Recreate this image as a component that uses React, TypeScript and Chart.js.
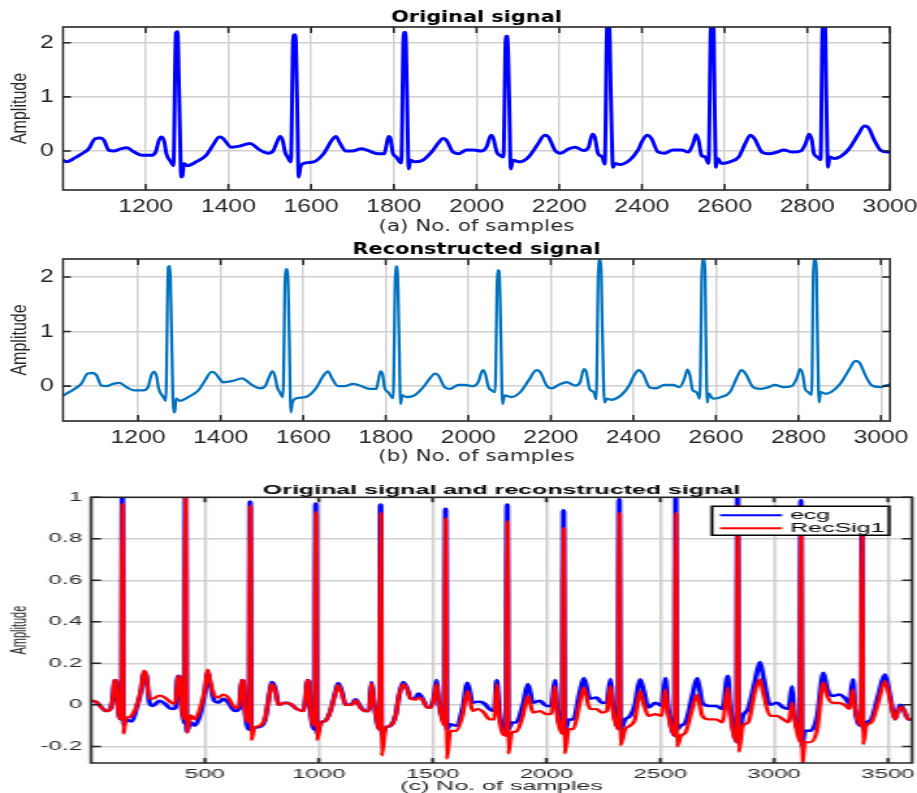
import React, { useEffect, useRef } from "react";
import { Chart, registerables } from "chart.js";

Chart.register(...registerables);

const PAGE_W = 917;

// ---------------- DATA ----------------
// (a) Original signal, samples 1000..3000
const origX = [
  1000, 1009, 1026, 1046, 1062, 1078, 1090, 1099, 1111, 1123,
  1139, 1155, 1172, 1192, 1212, 1224, 1232, 1239, 1245, 1250,
  1261, 1267, 1273, 1277, 1281, 1286, 1289, 1292, 1301, 1322,
  1346, 1362, 1378, 1386, 1407, 1427, 1452, 1464, 1476, 1496,
  1508, 1516, 1525, 1531, 1537, 1543, 1551, 1557, 1562, 1566,
  1570, 1574, 1581, 1606, 1630, 1650, 1660, 1670, 1684, 1700,
  1721, 1737, 1761, 1777, 1782, 1787, 1792, 1798, 1806, 1814,
  1818, 1824, 1828, 1832, 1836, 1840, 1850, 1870, 1891, 1907,
  1919, 1927, 1943, 1956, 1976, 1992, 2012, 2024, 2035, 2041,
  2049, 2057, 2065, 2071, 2075, 2079, 2083, 2088, 2105, 2126,
  2146, 2165, 2174, 2190, 2203, 2223, 2239, 2259, 2271, 2280,
  2286, 2294, 2304, 2310, 2316, 2321, 2325, 2330, 2336, 2346,
  2370, 2390, 2402, 2413, 2423, 2439, 2455, 2475, 2496, 2512,
  2524, 2531, 2537, 2544, 2553, 2561, 2567, 2573, 2576, 2579,
  2583, 2593, 2613, 2634, 2650, 2662, 2672, 2690, 2707, 2727,
  2743, 2764, 2784, 2796, 2804, 2811, 2816, 2824, 2832, 2837,
  2843, 2846, 2850, 2854, 2865, 2881, 2901, 2922, 2938, 2948,
  2962, 2978, 3000,
];
const origY = [
  -0.17, -0.2, -0.14, -0.05, 0.04, 0.23, 0.24, 0.2, 0.01, 0,
  0.04, 0.06, -0.02, -0.08, -0.08, -0.02, 0.2, 0.26, 0.17, -0.05,
  -0.2, -0.27, 2.18, 2.2, 1.0, -0.48, -0.46, -0.23, -0.27, -0.2,
  -0.08, 0.1, 0.26, 0.24, 0.07, 0.09, 0.14, 0.09, 0.02, -0.04,
  0, 0.14, 0.27, 0.2, -0.02, -0.11, -0.2, 2.14, 2.14, 1.0,
  -0.48, -0.3, -0.23, -0.2, -0.05, 0.2, 0.27, 0.14, 0, 0,
  0.04, 0.01, -0.05, -0.05, 0.1, 0.27, 0.23, -0.05, -0.11, -0.2,
  -0.22, 2.19, 2.19, 1.0, -0.33, -0.17, -0.2, -0.17, -0.02, 0.14,
  0.23, 0.2, -0.02, -0.05, 0.02, 0.02, 0, 0.07, 0.29, 0.23,
  -0.02, -0.08, -0.11, 2.12, 2.11, 0.94, -0.33, -0.17, -0.2, -0.11,
  0.1, 0.29, 0.26, 0.01, -0.04, 0.04, 0.07, 0.01, 0.07, 0.31,
  0.26, -0.05, -0.11, -0.24, 2.31, 2.31, 1.0, -0.3, -0.23, -0.25,
  -0.17, 0.01, 0.2, 0.29, 0.23, -0.02, -0.04, 0.02, 0.02, -0.02,
  0.14, 0.3, 0.2, -0.08, -0.11, -0.23, 2.31, 2.31, 0.8, -0.3,
  -0.14, -0.23, -0.2, -0.11, 0.14, 0.29, 0.23, -0.02, -0.05, -0.02,
  0.02, -0.02, 0, 0.14, 0.31, 0.2, -0.05, -0.11, -0.16, 2.31,
  2.31, 1.0, -0.3, -0.11, -0.14, -0.1, 0.04, 0.29, 0.46, 0.43,
  0.2, 0.01, -0.02,
];

// (b) Reconstructed signal: same samples plus a short tail past 3000
const recTailX = [3010, 3022];
const recTailY = [0.01, 0.03];

// (c) ecg and RecSig1, samples 0..3606
const ecgX = [
  0, 22, 44, 66, 85, 96, 103, 110, 118, 125,
  134, 137, 139, 141, 143, 152, 165, 180, 199, 221,
  232, 243, 257, 272, 301, 325, 353, 370, 382, 390,
  397, 411, 414, 416, 418, 420, 438, 456, 478, 500,
  512, 522, 541, 559, 581, 603, 632, 650, 662, 669,
  676, 695, 698, 700, 702, 704, 718, 743, 765, 787,
  794, 809, 824, 853, 875, 904, 934, 943, 949, 956,
  963, 983, 986, 988, 990, 992, 1010, 1029, 1051, 1073,
  1085, 1103, 1118, 1147, 1162, 1184, 1206, 1221, 1232, 1243,
  1268, 1271, 1273, 1275, 1277, 1294, 1316, 1338, 1353, 1371,
  1390, 1404, 1424, 1438, 1456, 1478, 1493, 1508, 1518, 1528,
  1553, 1556, 1558, 1560, 1562, 1578, 1603, 1632, 1654, 1676,
  1699, 1724, 1750, 1772, 1782, 1794, 1824, 1827, 1829, 1831,
  1833, 1848, 1868, 1897, 1919, 1941, 1971, 2000, 2022, 2037,
  2047, 2071, 2074, 2076, 2078, 2080, 2098, 2118, 2147, 2165,
  2191, 2221, 2243, 2265, 2282, 2291, 2316, 2319, 2321, 2323,
  2325, 2346, 2368, 2389, 2411, 2426, 2448, 2478, 2507, 2522,
  2534, 2564, 2567, 2569, 2571, 2573, 2590, 2611, 2641, 2663,
  2685, 2715, 2745, 2774, 2797, 2807, 2836, 2839, 2841, 2843,
  2845, 2863, 2886, 2915, 2938, 2952, 2982, 3012, 3041, 3064,
  3079, 3088, 3114, 3117, 3119, 3121, 3123, 3136, 3160, 3190,
  3217, 3234, 3257, 3286, 3316, 3331, 3346, 3356, 3382, 3385,
  3387, 3389, 3391, 3405, 3427, 3457, 3487, 3509, 3531, 3553,
  3568, 3590, 3606,
];
const ecgY = [
  0.02, 0.015, -0.01, -0.03, -0.02, 0.04, 0.12, 0.115, 0, -0.06,
  -0.07, 1.02, 1.0, 0.3, -0.1, -0.07, -0.075, -0.08, -0.02, 0.075,
  0.16, 0.14, 0.01, -0.005, 0.02, 0.005, -0.02, -0.015, 0.14, 0.13,
  0, -0.09, 1.02, 1.02, 0.3, -0.13, -0.085, -0.1, -0.05, 0.06,
  0.16, 0.11, 0.02, 0.01, 0.03, 0.01, -0.03, -0.02, 0.12, 0.115,
  -0.02, -0.12, 0.98, 0.97, 0.3, -0.12, -0.11, -0.105, -0.07, 0.075,
  0.11, 0.08, 0, 0.01, 0.005, -0.02, -0.03, 0.04, 0.12, 0.115,
  -0.02, -0.12, 0.97, 0.96, 0.3, -0.14, -0.085, -0.077, -0.03, 0.06,
  0.105, 0.06, 0, 0.005, 0.027, -0.01, -0.03, -0.03, 0.11, 0.01,
  -0.12, 0.965, 0.96, 0.3, -0.15, -0.11, -0.1, -0.05, 0.045, 0.11,
  0.075, 0.03, 0.03, 0.055, 0.03, -0.013, -0.013, 0.05, 0.12, 0.01,
  -0.085, 0.945, 0.94, 0.3, -0.12, -0.093, -0.1, -0.02, 0.107, 0.01,
  0.015, 0.01, -0.02, -0.03, 0.12, -0.035, -0.13, 0.965, 0.96, 0.3,
  -0.12, -0.085, -0.085, 0, 0.1, 0.01, 0.02, -0.005, -0.005, 0.12,
  -0.02, -0.125, 0.937, 0.93, 0.3, -0.13, -0.07, -0.07, 0.06, 0.13,
  0.03, 0.035, 0.01, 0.01, 0.124, 0.01, -0.117, 0.99, 0.985, 0.3,
  -0.12, -0.07, -0.053, 0, 0.123, 0.075, -0.013, 0.01, -0.005, 0.13,
  -0.005, -0.15, 1.02, 1.02, 0.3, -0.12, -0.1, -0.085, 0.043, 0.13,
  0.01, -0.005, -0.005, -0.02, 0.14, 0, -0.18, 1.02, 1.02, 0.3,
  -0.15, -0.053, -0.02, 0.107, 0.206, 0.14, 0, 0.01, -0.013, -0.02,
  0.09, -0.05, -0.117, 0.985, 0.98, 0.3, -0.2, -0.125, -0.125, -0.053,
  0.155, 0.075, 0.043, 0.05, 0.027, 0.003, 0.123, -0.02, -0.1, 0.9,
  0.9, 0.3, -0.12, -0.085, -0.07, 0.043, 0.147, 0.043, -0.07, 0,
  -0.02, -0.07, -0.07,
];
const recSig1Y = [
  0.02, 0.015, -0.01, -0.03, -0.02, 0.04, 0.12, 0.115, 0, -0.06,
  -0.07, 0.97, 0.96, 0.3, -0.14, -0.06, -0.06, -0.05, -0.01, 0.08,
  0.165, 0.14, 0.03, 0.03, 0.045, 0.035, 0.01, 0.005, 0.14, 0.13,
  0, -0.07, 1.02, 1.02, 0.3, -0.135, -0.05, -0.07, -0.02, 0.075,
  0.17, 0.12, 0.045, 0.035, 0.05, 0.035, -0.013, -0.013, 0.12, 0.115,
  -0.02, -0.085, 0.96, 0.95, 0.3, -0.17, -0.11, -0.1, -0.06, 0.07,
  0.1, 0.07, 0, 0.01, 0.005, -0.02, -0.03, 0.04, 0.12, 0.11,
  -0.02, -0.1, 0.93, 0.92, 0.3, -0.17, -0.085, -0.077, -0.03, 0.055,
  0.095, 0.05, 0, 0, 0.022, -0.015, -0.03, -0.03, 0.105, 0.01,
  -0.12, 0.925, 0.92, 0.3, -0.245, -0.11, -0.1, -0.05, 0.045, 0.1,
  0.07, 0.03, 0.025, 0.035, 0.025, -0.013, -0.013, 0.04, 0.1, 0.01,
  -0.1, 0.9, 0.89, 0.3, -0.26, -0.125, -0.125, -0.05, 0.067, -0.03,
  -0.02, -0.035, -0.07, -0.07, 0.1, -0.07, -0.15, 0.885, 0.88, 0.3,
  -0.235, -0.13, -0.13, -0.05, 0.043, -0.037, -0.03, -0.045, -0.045, 0.09,
  -0.05, -0.14, 0.853, 0.85, 0.3, -0.235, -0.117, -0.117, 0.01, 0.083,
  -0.02, -0.02, -0.037, -0.03, 0.09, -0.02, -0.117, 0.925, 0.92, 0.3,
  -0.195, -0.117, -0.1, -0.07, 0.067, 0.01, -0.053, -0.045, -0.053, 0.075,
  -0.04, -0.15, 0.925, 0.92, 0.3, -0.2, -0.15, -0.133, -0.02, 0.05,
  -0.053, -0.07, -0.07, -0.085, 0.083, -0.04, -0.18, 0.96, 0.96, 0.3,
  -0.227, -0.1, -0.085, 0.06, 0.123, 0.06, -0.053, -0.053, -0.07, -0.085,
  0.01, -0.053, -0.18, 0.95, 0.94, 0.3, -0.3, -0.18, -0.18, -0.117,
  0.107, 0.043, 0.01, 0.01, -0.005, -0.02, 0.075, -0.02, -0.1, 0.86,
  0.86, 0.3, -0.19, -0.1, -0.085, 0.01, 0.115, 0.027, -0.07, -0.01,
  -0.02, -0.07, -0.07,
];

// Tick values
const xTicksAB = [1200, 1400, 1600, 1800, 2000, 2200, 2400, 2600, 2800, 3000];
const yTicksAB = [0, 1, 2];
const xTicksC = [500, 1000, 1500, 2000, 2500, 3000, 3500];
const yTicksC = [-0.2, 0, 0.2, 0.4, 0.6, 0.8, 1];

// ---------------- STYLE ----------------
const SANS = "'Liberation Sans', Arial, Helvetica, sans-serif";
const WIDE = "'DejaVu Sans', Verdana, sans-serif";
const AXIS_COLOR = "#262626";
const GRID_COLOR = "#d0d0d0";

const matlabAxes = {
  id: "matlabAxes",
  afterDatasetsDraw(chart: any, _args: any, opts: any) {
    const { ctx, chartArea: a, scales } = chart;
    const xs = scales.x;
    const ys = scales.y;
    ctx.save();
    if (opts.legend) {
      const lg = opts.legend;
      const x0 = a.right - lg.insetRight - lg.width;
      const y0 = a.top + lg.insetTop;
      ctx.fillStyle = "#ffffff";
      ctx.fillRect(x0, y0, lg.width, lg.height);
      ctx.font = `${lg.fontSize}px ${SANS}`;
      ctx.textBaseline = "middle";
      ctx.textAlign = "left";
      chart.data.datasets.forEach((ds: any, i: number) => {
        const yy = y0 + lg.firstRow + i * lg.rowGap;
        ctx.strokeStyle = ds.borderColor;
        ctx.lineWidth = lg.lineWidth;
        ctx.beginPath();
        ctx.moveTo(x0 + lg.lineStart, yy);
        ctx.lineTo(x0 + lg.lineEnd, yy);
        ctx.stroke();
        ctx.fillStyle = "#000000";
        ctx.fillText(ds.label, x0 + lg.textStart, yy + 0.5);
      });
      ctx.strokeStyle = "#000000";
      ctx.lineWidth = lg.borderWidth;
      ctx.strokeRect(x0, y0, lg.width, lg.height);
    }
    ctx.strokeStyle = AXIS_COLOR;
    ctx.lineWidth = opts.lineWidth;
    ctx.beginPath();
    const L = opts.tickLen;
    xs.ticks.forEach((t: any) => {
      const p = xs.getPixelForValue(t.value);
      ctx.moveTo(p, a.bottom);
      ctx.lineTo(p, a.bottom - L);
      ctx.moveTo(p, a.top);
      ctx.lineTo(p, a.top + L);
    });
    ys.ticks.forEach((t: any) => {
      const p = ys.getPixelForValue(t.value);
      ctx.moveTo(a.left, p);
      ctx.lineTo(a.left + L, p);
      ctx.moveTo(a.right, p);
      ctx.lineTo(a.right - L, p);
    });
    ctx.stroke();
    ctx.strokeRect(a.left, a.top, a.right - a.left, a.bottom - a.top);
    ctx.restore();
  },
};

type Series = { label: string; x: number[]; y: number[]; color: string; width: number; order: number };

type PanelCfg = {
  series: Series[];
  padRight: number;
  yAxisW: number;
  xAxisH: number;
  xMin: number;
  xMax: number;
  yMin: number;
  yMax: number;
  xTicks: number[];
  yTicks: number[];
  tickFont: any;
  xTickPad: number;
  yTickPad: number;
  title: string;
  titleFont: any;
  titlePad: any;
  xLabel: string;
  xLabelFont: any;
  yLabelFont: any;
  yLabelPad: number;
  tickLen: number;
  boxWidth: number;
  legend?: any;
};

const fmt = (v: any) => String(+Number(v).toFixed(2));

function buildConfig(p: PanelCfg): any {
  return {
    type: "line",
    data: {
      datasets: p.series.map((s) => ({
        label: s.label,
        data: s.x.map((x, i) => ({ x, y: s.y[i] })),
        borderColor: s.color,
        backgroundColor: s.color,
        borderWidth: s.width,
        pointRadius: 0,
        pointHoverRadius: 0,
        fill: false,
        cubicInterpolationMode: "monotone",
        borderJoinStyle: "round",
        borderCapStyle: "round",
        clip: 0,
        order: s.order,
      })),
    },
    options: {
      responsive: false,
      animation: false,
      events: [],
      layout: { padding: { left: 0, right: p.padRight, top: 0, bottom: 0 } },
      scales: {
        x: {
          type: "linear",
          min: p.xMin,
          max: p.xMax,
          afterBuildTicks: (ax: any) => {
            ax.ticks = p.xTicks.map((v) => ({ value: v }));
          },
          afterFit: (ax: any) => {
            ax.height = p.xAxisH;
            ax.paddingLeft = 0;
            ax.paddingRight = 0;
          },
          grid: { color: GRID_COLOR, lineWidth: 1.5, drawTicks: false },
          border: { display: false },
          ticks: {
            autoSkip: false,
            maxRotation: 0,
            minRotation: 0,
            padding: p.xTickPad,
            color: AXIS_COLOR,
            font: p.tickFont,
            callback: (v: any) => fmt(v),
          },
          title: {
            display: true,
            text: p.xLabel,
            color: AXIS_COLOR,
            font: p.xLabelFont,
            padding: { top: 0, bottom: 0 },
          },
        },
        y: {
          type: "linear",
          min: p.yMin,
          max: p.yMax,
          afterBuildTicks: (ax: any) => {
            ax.ticks = p.yTicks.map((v) => ({ value: v }));
          },
          afterFit: (ax: any) => {
            ax.width = p.yAxisW;
            ax.paddingTop = 0;
            ax.paddingBottom = 0;
          },
          grid: { color: GRID_COLOR, lineWidth: 1.5, drawTicks: false },
          border: { display: false },
          ticks: {
            autoSkip: false,
            padding: p.yTickPad,
            color: AXIS_COLOR,
            font: p.tickFont,
            callback: (v: any) => fmt(v),
          },
          title: {
            display: true,
            text: "Amplitude",
            color: AXIS_COLOR,
            font: p.yLabelFont,
            padding: { top: p.yLabelPad, bottom: 0 },
          },
        },
      },
      plugins: {
        legend: { display: false },
        tooltip: { enabled: false },
        title: {
          display: true,
          text: p.title,
          fullSize: false,
          color: "#000000",
          font: p.titleFont,
          padding: p.titlePad,
        },
        matlabAxes: { tickLen: p.tickLen, lineWidth: p.boxWidth, legend: p.legend },
      },
    },
    plugins: [matlabAxes],
  };
}

// ---------------- PANELS ----------------
const WA = 705;
const WC = 459;
const kA = PAGE_W / WA;
const kC = PAGE_W / WC;

const panelA: PanelCfg = {
  series: [{ label: "Original", x: origX, y: origY, color: "#0000ff", width: 3, order: 1 }],
  padRight: WA - 890 / kA,
  yAxisW: 63 / kA,
  xAxisH: 47,
  xMin: 1000,
  xMax: 3000,
  yMin: -0.72,
  yMax: 2.29,
  xTicks: xTicksAB,
  yTicks: yTicksAB,
  tickFont: { family: SANS, size: 19 },
  xTickPad: 5,
  yTickPad: 7,
  title: "Original signal",
  titleFont: { family: WIDE, size: 16, weight: "bold", lineHeight: 1 },
  titlePad: { top: 10, bottom: 1 },
  xLabel: "(a) No. of samples",
  xLabelFont: { family: WIDE, size: 16.5, lineHeight: 1.2 },
  yLabelFont: { family: SANS, size: 16, lineHeight: 1.2 },
  yLabelPad: 6,
  tickLen: 6,
  boxWidth: 1.6,
};

const panelB: PanelCfg = {
  ...panelA,
  series: [
    {
      label: "Reconstructed",
      x: origX.concat(recTailX),
      y: origY.concat(recTailY),
      color: "#0072bd",
      width: 2.3,
      order: 1,
    },
  ],
  xAxisH: 46,
  xMin: 1018,
  xMax: 3022,
  yMin: -0.64,
  yMax: 2.33,
  title: "Reconstructed signal",
  titlePad: { top: 5, bottom: 1 },
  xLabel: "(b) No. of samples",
};

const panelC: PanelCfg = {
  series: [
    { label: "ecg", x: ecgX, y: ecgY, color: "#0000ff", width: 2.5, order: 2 },
    { label: "RecSig1", x: ecgX, y: recSig1Y, color: "#ff0000", width: 2.2, order: 1 },
  ],
  padRight: WC - 912 / kC,
  yAxisW: 91 / kC,
  xAxisH: 30,
  xMin: 0,
  xMax: 3606,
  yMin: -0.28,
  yMax: 1,
  xTicks: xTicksC,
  yTicks: yTicksC,
  tickFont: { family: SANS, size: 12 },
  xTickPad: 4,
  yTickPad: 4.5,
  title: "Original signal and reconstructed signal",
  titleFont: { family: SANS, size: 12.5, weight: "bold", lineHeight: 1 },
  titlePad: { top: 17.75, bottom: 0 },
  xLabel: "(c) No. of samples",
  xLabelFont: { family: SANS, size: 12.5, lineHeight: 1 },
  yLabelFont: { family: SANS, size: 11, lineHeight: 1.2 },
  yLabelPad: 3.4,
  tickLen: 5,
  boxWidth: 1.5,
  legend: {
    insetRight: 11.5,
    insetTop: 9,
    width: 88.6,
    height: 29,
    lineStart: 4,
    lineEnd: 35,
    textStart: 39,
    firstRow: 9,
    rowGap: 13,
    fontSize: 12.5,
    lineWidth: 2,
    borderWidth: 1.5,
  },
};

function ChartPanel({ cfg, w, h, top }: { cfg: PanelCfg; w: number; h: number; top: number }) {
  const ref = useRef<HTMLCanvasElement | null>(null);
  useEffect(() => {
    if (!ref.current) return;
    const chart = new Chart(ref.current, buildConfig(cfg));
    return () => chart.destroy();
  }, []);
  return (
    <canvas
      ref={ref}
      width={w}
      height={h}
      style={{
        position: "absolute",
        left: 0,
        top,
        transform: `scaleX(${PAGE_W / w})`,
        transformOrigin: "0 0",
      }}
    />
  );
}

export default function App() {
  return (
    <div
      style={{
        position: "absolute",
        left: 0,
        top: 0,
        width: PAGE_W,
        height: 793,
        background: "#ffffff",
        overflow: "hidden",
      }}
    >
      <ChartPanel cfg={panelA} w={WA} h={237} top={0} />
      <ChartPanel cfg={panelB} w={WA} h={230} top={237} />
      <ChartPanel cfg={panelC} w={WC} h={326} top={467} />
    </div>
  );
}
